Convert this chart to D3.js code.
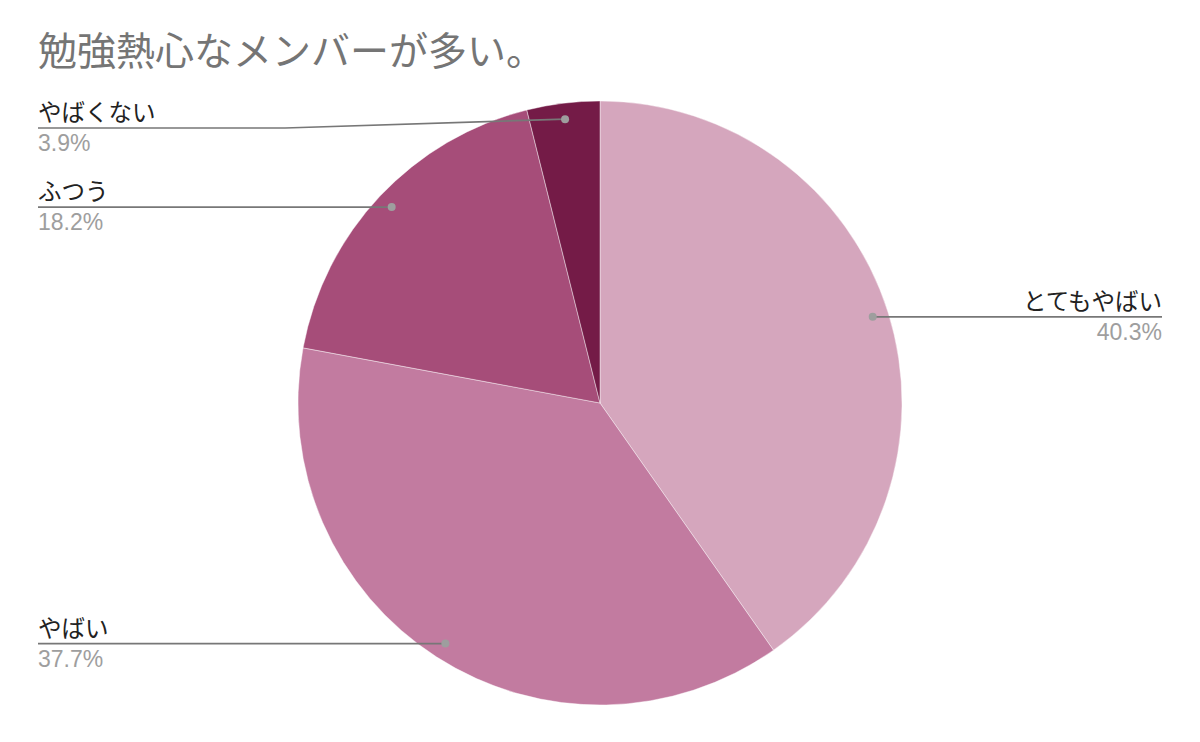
<!DOCTYPE html>
<html>
<head>
<meta charset="utf-8">
<script src="https://cdn.jsdelivr.net/npm/d3@7"></script>
<style>
  body { margin: 0; background: #fff; }
  text { font-family: "Liberation Sans", Arial, "Noto Sans CJK JP", sans-serif; }
</style>
</head>
<body>
<script>
var title = "勉強熱心なメンバーが多い。";
var categories = ["とてもやばい", "やばい", "ふつう", "やばくない"];
var values = [40.3, 37.7, 18.2, 3.9];
var colors = ["#d5a6bd", "#c27ba0", "#a64d79", "#741b47"];

var width = 1200, height = 742;
var cx = 600, cy = 403, radius = 302;
var dotRadius = 286;

var svg = d3.select("body").append("svg")
    .attr("width", width)
    .attr("height", height);

svg.append("text")
    .attr("x", 38)
    .attr("y", 65)
    .attr("font-size", 39)
    .attr("fill", "#757575")
    .style("font-family", "'Noto Sans CJK JP', sans-serif")
    .text(title);

var data = categories.map(function(c, i) { return {name: c, value: values[i], color: colors[i]}; });

var pie = d3.pie().sort(null).value(function(d) { return d.value; });
var arcs = pie(data);

var arc = d3.arc().innerRadius(0).outerRadius(radius);
var dotArc = d3.arc().innerRadius(dotRadius).outerRadius(dotRadius);

var g = svg.append("g").attr("transform", "translate(" + cx + "," + cy + ")");

g.selectAll("path")
    .data(arcs)
    .enter()
    .append("path")
    .attr("d", arc)
    .attr("fill", function(d) { return d.data.color; })
    .attr("stroke", "#fff")
    .attr("stroke-width", 0.7)
    .attr("stroke-opacity", 0.6);

// labels: left side at x=38, right side right-aligned at 1162
var labels = svg.append("g");
arcs.forEach(function(d) {
    var c = dotArc.centroid(d);
    var dx = cx + c[0], dy = cy + c[1];
    var right = c[0] > 0;
    // keep top label clear of the title
    var ly = Math.max(dy, 128);
    var lx = right ? 1162 : 38;
    var pts;
    if (ly !== dy) {
        pts = [[lx, ly], [285, ly], [dx, dy]];
    } else {
        pts = [[lx, ly], [dx, dy]];
    }
    labels.append("path")
        .attr("d", d3.line()(pts))
        .attr("fill", "none")
        .attr("stroke", "#777")
        .attr("stroke-width", 1.7);
    labels.append("circle")
        .attr("cx", dx)
        .attr("cy", dy)
        .attr("r", 4)
        .attr("fill", "#9e9e9e");
    labels.append("text")
        .attr("x", lx)
        .attr("y", ly - 7)
        .attr("font-size", 23.5)
        .attr("fill", "#222")
        .attr("text-anchor", right ? "end" : "start")
        .style("font-family", "'Noto Sans CJK JP', sans-serif")
        .text(d.data.name);
    labels.append("text")
        .attr("x", lx)
        .attr("y", ly + 23)
        .attr("font-size", 23)
        .attr("fill", "#9e9e9e")
        .attr("text-anchor", right ? "end" : "start")
        .text(d.data.value.toFixed(1) + "%");
});
</script>
</body>
</html>
